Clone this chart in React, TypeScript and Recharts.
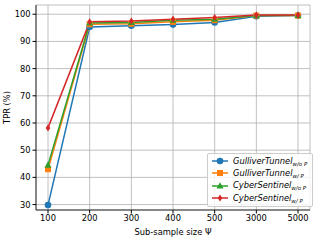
import React from 'react';
import { LineChart, Line, XAxis, YAxis, CartesianGrid } from 'recharts';

const sizes = ['100', '200', '300', '400', '500', '3000', '5000'];
const gulliverNoP = [29.8, 95.3, 95.8, 96.2, 97.0, 99.3, 99.5];
const gulliverP = [43.0, 96.3, 96.5, 97.2, 97.8, 99.5, 99.5];
const cyberNoP = [44.5, 96.8, 97.0, 97.8, 98.2, 99.5, 99.6];
const cyberP = [58.2, 97.2, 97.5, 98.2, 98.8, 99.7, 99.7];
const yTicks = [30, 40, 50, 60, 70, 80, 90, 100];

const series = [
  { key: 'gNo', name: 'GulliverTunnel', sub: 'w/o P', color: '#1f77b4', shape: 'circle', values: gulliverNoP },
  { key: 'gP', name: 'GulliverTunnel', sub: 'w/ P', color: '#ff7f0e', shape: 'square', values: gulliverP },
  { key: 'cNo', name: 'CyberSentinel', sub: 'w/o P', color: '#2ca02c', shape: 'triangle', values: cyberNoP },
  { key: 'cP', name: 'CyberSentinel', sub: 'w/ P', color: '#d62728', shape: 'diamond', values: cyberP },
];

const data = sizes.map((s, i) => {
  const row: any = { size: s };
  series.forEach(se => { row[se.key] = se.values[i]; });
  return row;
});

const font = 'DejaVu Sans, sans-serif';

function marker(shape: string, cx: number, cy: number, color: string, k?: any) {
  if (shape === 'circle') return <circle key={k} cx={cx} cy={cy} r={3.3} fill={color} />;
  if (shape === 'square') return <rect key={k} x={cx - 3} y={cy - 3} width={6} height={6} fill={color} />;
  if (shape === 'triangle') return <polygon key={k} points={`${cx},${cy - 3.8} ${cx - 3.5},${cy + 2.6} ${cx + 3.5},${cy + 2.6}`} fill={color} />;
  return <polygon key={k} points={`${cx},${cy - 3.6} ${cx - 2.3},${cy} ${cx},${cy + 3.6} ${cx + 2.3},${cy}`} fill={color} />;
}

const makeDot = (shape: string, color: string) => (p: any) =>
  p.cx == null ? <g key={p.index} /> : marker(shape, p.cx, p.cy, color, p.index);

function LegendBox() {
  return (
    <div style={{ position: 'absolute', left: 207, top: 153, background: 'rgba(255,255,255,0.8)', border: '1px solid #cccccc', borderRadius: 2, padding: '1px 5px 2px 3px', fontFamily: font, fontSize: 8.3, color: '#000' }}>
      {series.map(se => (
        <div key={se.key} style={{ display: 'flex', alignItems: 'center', height: 12.3 }}>
          <svg width={18} height={10} style={{ marginRight: 4 }}>
            <line x1={1} y1={5} x2={17} y2={5} stroke={se.color} strokeWidth={1.5} />
            {marker(se.shape, 9, 5, se.color)}
          </svg>
          <span style={{ fontStyle: 'italic', whiteSpace: 'nowrap' }}>
            {se.name}<sub style={{ fontSize: 5.5, verticalAlign: '-2px' }}>{se.sub}</sub>
          </span>
        </div>
      ))}
    </div>
  );
}

export default function App() {
  return (
    <div style={{ position: 'absolute', left: 0, top: 0, width: 316, height: 240, background: '#fff' }}>
      <LineChart width={316} height={240} data={data} margin={{ top: 5, right: 6, left: 0, bottom: 0 }}>
        <CartesianGrid stroke="#b0b0b0" strokeWidth={0.8} />
        <XAxis
          dataKey="size"
          padding={{ left: 12, right: 12 }}
          height={30}
          tickSize={3.5}
          tickLine={{ stroke: '#000' }}
          axisLine={{ stroke: '#000', strokeWidth: 0.8 }}
          tick={{ fontSize: 8.3, fill: '#000', fontFamily: font }}
          label={{ value: 'Sub-sample size Ψ', position: 'insideBottom', offset: 5, fontSize: 8.3, fill: '#000', fontFamily: font }}
        />
        <XAxis xAxisId="top" orientation="top" dataKey="size" height={0} tick={false} tickLine={false} axisLine={{ stroke: '#000', strokeWidth: 0.8 }} />
        <YAxis
          domain={[28, 103.4]}
          ticks={yTicks}
          width={36}
          tickSize={3.5}
          tickLine={{ stroke: '#000' }}
          axisLine={{ stroke: '#000', strokeWidth: 0.8 }}
          allowDataOverflow
          tick={{ fontSize: 8.3, fill: '#000', fontFamily: font }}
          label={{ value: 'TPR (%)', angle: -90, position: 'insideLeft', offset: 7, fontSize: 8.3, fill: '#000', fontFamily: font, style: { textAnchor: 'middle' } }}
        />
        <YAxis yAxisId="right" orientation="right" width={0} tick={false} tickLine={false} axisLine={{ stroke: '#000', strokeWidth: 0.8 }} />
        {series.map(se => (
          <Line
            key={se.key}
            dataKey={se.key}
            name={se.name}
            stroke={se.color}
            strokeWidth={1.5}
            dot={makeDot(se.shape, se.color)}
            activeDot={false}
            isAnimationActive={false}
          />
        ))}
      </LineChart>
      <LegendBox />
    </div>
  );
}
